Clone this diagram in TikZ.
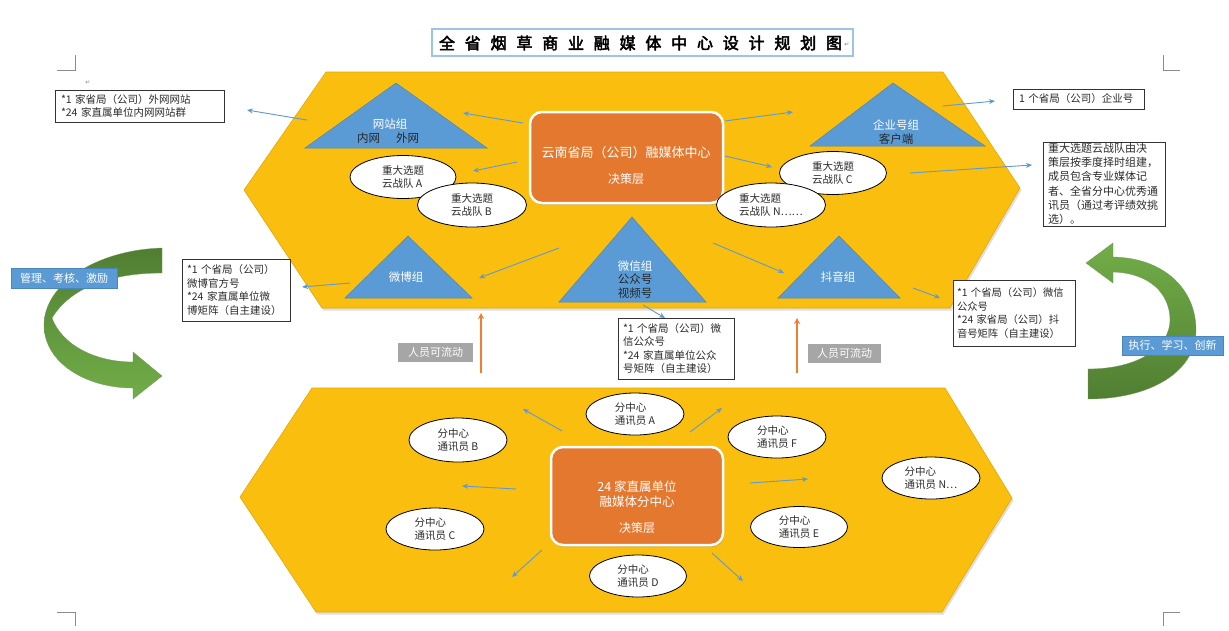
\documentclass[tikz,border=0pt]{standalone}
\usepackage{fontspec}
\setmainfont{Noto Sans CJK SC}[AutoFakeBold=3]
\newfontfamily\symfont{DejaVu Sans}
\usetikzlibrary{shapes.geometric,arrows.meta,shadows}
\definecolor{hexy}{HTML}{F9BE0E}
\definecolor{hexedge}{HTML}{E3AA05}
\definecolor{triblue}{HTML}{5B9BD5}
\definecolor{tribord}{HTML}{4A86BE}
\definecolor{orbox}{HTML}{E5782F}
\definecolor{arrblue}{HTML}{5B9BD5}
\definecolor{arror}{HTML}{F08030}
\definecolor{greylab}{HTML}{A6A6A6}
\definecolor{gdark}{HTML}{507E32}
\definecolor{glight}{HTML}{72AE48}
\definecolor{titleb}{HTML}{9DC3E6}
\definecolor{txtdark}{HTML}{2B2B2B}
\tikzset{
 hexshape/.style={fill=hexy, draw=hexedge, line width=0.6pt, drop shadow={opacity=0.25, shadow xshift=1.5pt, shadow yshift=-2.5pt}},
 tri/.style={fill=triblue, draw=tribord, line width=0.5pt},
 trilab/.style={font=\fontsize{11.5}{14}\selectfont, align=center, inner sep=0pt},
 ell/.style={ellipse, draw=black, line width=0.8pt, fill=white, inner sep=0pt, align=left, font=\fontsize{10.5}{13.5}\selectfont, text=txtdark},
 obox/.style={rectangle, rounded corners=12pt, fill=orbox, draw=white, line width=2.5pt, text=white, align=center, drop shadow={opacity=0.3, shadow xshift=1pt, shadow yshift=-2pt}},
 tbox/.style={rectangle, draw=black!80, line width=0.9pt, fill=white, align=left, inner xsep=6pt, inner ysep=0pt, font=\fontsize{10.5}{13.5}\selectfont, text=txtdark},
 barrow/.style={draw=arrblue, line width=0.9pt, -{Stealth[length=6pt,width=5pt]}},
 oarrow/.style={draw=arror, line width=1.4pt, -{Stealth[length=6pt,width=6pt]}},
 glab/.style={rectangle, fill=greylab, text=white, inner sep=0pt, font=\fontsize{11}{12}\selectfont},
 blab/.style={rectangle, fill=triblue, draw=tribord, line width=0.4pt, text=white, inner sep=0pt, font=\fontsize{11}{12}\selectfont},
 crop/.style={draw=black!45, line width=0.6pt},
 titlech/.style={font=\fontsize{16}{16}\selectfont\bfseries, inner sep=0pt},
 pmark/.style={font=\symfont\fontsize{6}{6}\selectfont, text=black!50, inner sep=0pt},
}
\begin{document}
\begin{tikzpicture}[x=1pt,y=-1pt]
\useasboundingbox (0,0) rectangle (1229,630);
\fill[white] (0,0) rectangle (1229,630);

% crop marks
\draw[crop] (57,70) -- (75,70) -- (75,55);
\draw[crop] (1163,55) -- (1163,70) -- (1180,70);
\draw[crop] (57,612) -- (75,612) -- (75,626);
\draw[crop] (1163,626) -- (1163,612) -- (1180,612);

% title
\node[rectangle, draw=titleb, line width=1.3pt, minimum width=421pt, minimum height=27pt, inner sep=0pt] (titlebox) at (642.5,42.5) {};
\foreach \c [count=\i from 0] in {全,省,烟,草,商,业,融,媒,体,中,心,设,计,规,划,图} {
  \node[titlech] (t\i) at ({447+\i*25.8},43) {\c};
}
\node[pmark] (tpm) at (847,45) {↵};
\node[pmark] (lpm) at (88,83) {↵};

% hexagons
\path[hexshape] (326,72) -- (943,72) -- (1020,188) -- (950,308) -- (322,308) -- (244,190) -- cycle;
\path[hexshape] (312,388) -- (945,388) -- (1012,498) -- (942,612) -- (316,612) -- (240,497) -- cycle;

% triangles
\path[tri] (396,83) -- (487,148) -- (305,148) -- cycle;
\path[tri] (893,83) -- (985,146) -- (810,146) -- cycle;
\path[tri] (408,236) -- (472,298) -- (345,298) -- cycle;
\path[tri] (632,217) -- (706,302) -- (559,302) -- cycle;
\path[tri] (839,236) -- (900,298) -- (778,298) -- cycle;

\node[trilab, text=white] (tw1) at (390,124) {网站组};
\node[trilab, text=black!85] (tw2) at (388,138) {内网\hspace{16pt}外网};
\node[trilab, text=white] (tq1) at (896,125) {企业号组};
\node[trilab, text=black!85] (tq2) at (896,139) {客户端};
\node[trilab, text=white] (tb1) at (406,277) {微博组};
\node[trilab, text=white] (tx1) at (635,266) {微信组};
\node[trilab, text=black!85] (tx2) at (635,279.5) {公众号};
\node[trilab, text=black!85] (tx3) at (635,293) {视频号};
\node[trilab, text=white] (td1) at (838,277) {抖音组};

% orange boxes
\node[obox, minimum width=193pt, minimum height=91pt] (ctop) at (626.5,157.5) {};
\node[text=white, inner sep=0pt, font=\fontsize{13}{15}\selectfont] (ctop1) at (626,153) {云南省局（公司）融媒体中心};
\node[text=white, inner sep=0pt, font=\fontsize{12}{13}\selectfont] (ctop2) at (626,179) {决策层};

\node[obox, minimum width=172pt, minimum height=98pt] (cbot) at (637,496) {};
\node[text=white, inner sep=0pt, font=\fontsize{12.5}{14}\selectfont] (cbot1) at (637,487) {24 家直属单位};
\node[text=white, inner sep=0pt, font=\fontsize{12.5}{14}\selectfont] (cbot2) at (637,502) {融媒体分中心};
\node[text=white, inner sep=0pt, font=\fontsize{12}{13}\selectfont] (cbot3) at (637,528) {决策层};

% ellipses top
\node[ell, minimum width=106pt, minimum height=43pt] (ea) at (403,177) {重大选题\\云战队 A};
\node[ell, minimum width=109pt, minimum height=44pt] (eb) at (472,205) {重大选题\\云战队 B};
\node[ell, minimum width=107pt, minimum height=43pt] (ec) at (833,173) {重大选题\\云战队 C};
\node[ell, minimum width=109pt, minimum height=44pt] (en) at (771,205) {重大选题\\云战队 N……};

% ellipses bottom
\node[ell, minimum width=98pt, minimum height=42pt] (fa) at (635,414) {分中心\\通讯员 A};
\node[ell, minimum width=98pt, minimum height=44pt] (fb) at (458,440) {分中心\\通讯员 B};
\node[ell, minimum width=98pt, minimum height=42pt] (fc) at (435,529) {分中心\\通讯员 C};
\node[ell, minimum width=97pt, minimum height=42pt] (fd) at (638,576) {分中心\\通讯员 D};
\node[ell, minimum width=97pt, minimum height=41pt] (fe) at (799,527) {分中心\\通讯员 E};
\node[ell, minimum width=98pt, minimum height=42pt] (ff) at (777,437) {分中心\\通讯员 F};
\node[ell, minimum width=98pt, minimum height=42pt] (fn) at (931,478) {分中心\\通讯员 N…};

% text boxes
\node[tbox, text width=157pt, minimum height=32pt] (bweb) at (139.5,106) {*1 家省局（公司）外网网站\\{}*24 家直属单位内网网站群};
\node[tbox, text width=119pt, minimum height=20pt] (bqy) at (1078.5,99) {1 个省局（公司）企业号};
\node[tbox, text width=112pt, inner xsep=5pt, minimum height=84pt, font=\fontsize{11}{14.2}\selectfont] (bbig) at (1104,184) {重大选题云战队由决\\策层按季度择时组建，\\成员包含专业媒体记\\者、全省分中心优秀通\\讯员（通过考评绩效挑\\选）。};
\node[tbox, text width=98pt, inner xsep=5pt, minimum height=62pt] (bwb) at (236,290) {*1 个省局（公司）\\微博官方号\\{}*24\,\,家直属单位微\\博矩阵（自主建设）};
\node[tbox, text width=106pt, inner xsep=5pt, minimum height=61pt] (bwx) at (676,348.5) {*1 个省局（公司）微\\信公众号\\{}*24\,\,家直属单位公众\\号矩阵（自主建设）};
\node[tbox, text width=114pt, inner xsep=4pt, minimum height=66pt, font=\fontsize{10.3}{13.5}\selectfont] (bdy) at (1014,313) {*1 个省局（公司）微信\\公众号\\{}*24 家省局（公司）抖\\音号矩阵（自主建设）};

% green curved arrows
\path[shade, top color=gdark, bottom color=glight, draw=gdark!80, line width=0.3pt]
 (162,248) .. controls (95,250) and (44,285) .. (44,325)
 .. controls (44,362) and (85,388) .. (133,388) -- (133,399) -- (162,376) -- (133,352) -- (133,362)
 .. controls (95,362) and (62,345) .. (52,318)
 .. controls (70,288) and (110,273) .. (162,273) -- cycle;
\path[shade, top color=glight, bottom color=gdark, draw=gdark!80, line width=0.3pt]
 (1086,263) -- (1113,243) -- (1113,257) .. controls (1165,258) and (1196,290) .. (1196,330)
 .. controls (1196,372) and (1150,399) .. (1088,399) -- (1088,369)
 .. controls (1140,369) and (1170,346) .. (1170,320)
 .. controls (1170,294) and (1150,273) .. (1113,272) -- (1113,283) -- cycle;

% labels
\node[blab, minimum width=106pt, minimum height=20pt] (lmgmt) at (64,278) {管理、考核、激励};
\node[blab, minimum width=101pt, minimum height=19pt] (lexec) at (1172.5,345.5) {执行、学习、创新};
\node[glab, minimum width=75pt, minimum height=19pt] (lflow1) at (435.5,352.5) {人员可流动};
\node[glab, minimum width=73pt, minimum height=19pt] (lflow2) at (844.5,353.5) {人员可流动};

% blue arrows
\foreach \n/\sx/\sy/\ex/\ey in {
 a1/523/123/463/113, a2/517/162/473/171, a3/307/120/247/110, a4/725/121/793/112,
 a5/725/156/772/167, a6/943/106/995/101, a7/910/173/1032/165, a8/559/248/479/278,
 a9/350/283/302/287, a10/713/243/784/273, a11/643/305/665/318, a12/913/288/940/298,
 b1/562/431/523/409, b2/690/432/722/408, b3/516/489/462/486, b4/750/483/808/479,
 b5/542/550/512/577, b6/712/553/743/581} {
 \coordinate (\n s) at (\sx,\sy);
 \coordinate (\n e) at (\ex,\ey);
 \draw[barrow] (\n s) -- (\n e);
}

% orange arrows
\coordinate (o1s) at (481,373); \coordinate (o1e) at (481,313);
\coordinate (o2s) at (797,373); \coordinate (o2e) at (797,318);
\draw[oarrow] (o1s) -- (o1e);
\draw[oarrow] (o2s) -- (o2e);
\end{tikzpicture}
\end{document}
